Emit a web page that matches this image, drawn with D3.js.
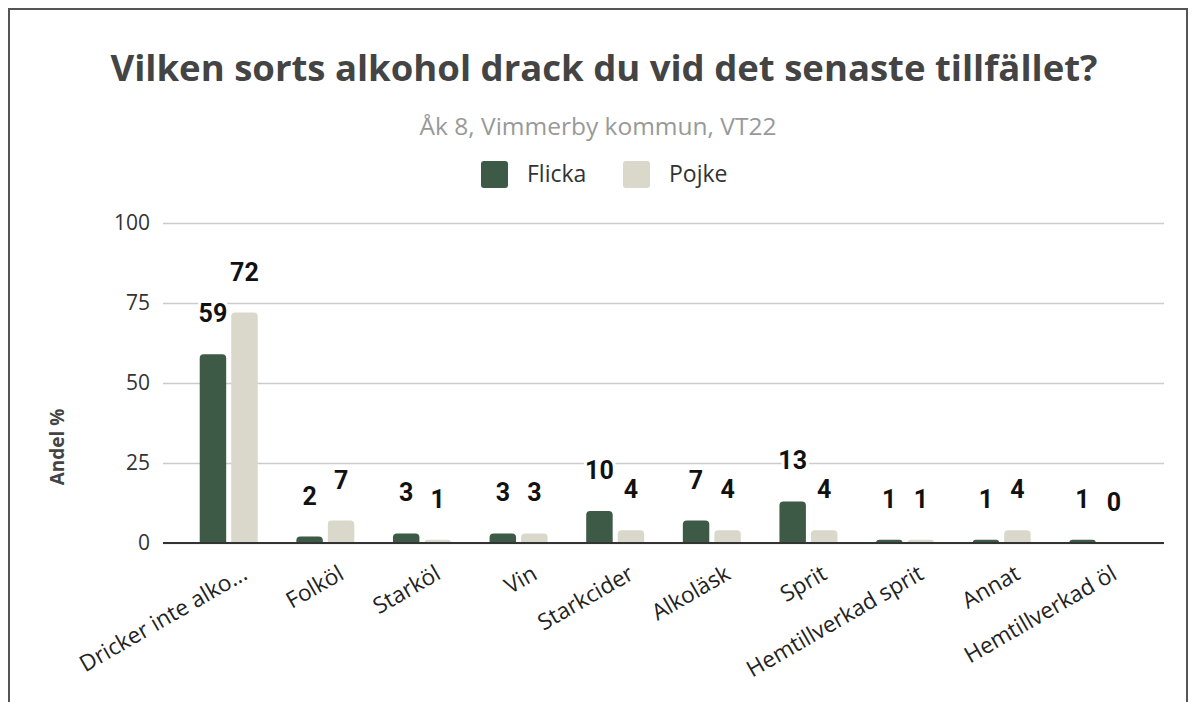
<!DOCTYPE html>
<html>
<head>
<meta charset="utf-8">
<script src="https://cdn.jsdelivr.net/npm/d3@7"></script>
<style>
  body { margin: 0; background: #fff; }
  text { font-family: "Open Sans", sans-serif; }
</style>
</head>
<body>
<div id="chart"></div>
<script>
var width = 1196, height = 702;

var categories = ["Dricker inte alko...", "Folköl", "Starköl", "Vin", "Starkcider", "Alkoläsk", "Sprit", "Hemtillverkad sprit", "Annat", "Hemtillverkad öl"];
var series = ["Flicka", "Pojke"];
var flicka = [59, 2, 3, 3, 10, 7, 13, 1, 1, 1];
var pojke = [72, 7, 1, 3, 4, 4, 4, 1, 4, 0];
var yTicks = [0, 25, 50, 75, 100];
var colors = ["#3d5a46", "#d9d8cb"];

var svg = d3.select("#chart")
  .append("svg")
    .attr("width", width)
    .attr("height", height);

svg.append("rect")
  .attr("x", 9).attr("y", 9)
  .attr("width", 1178).attr("height", 720)
  .attr("fill", "none")
  .attr("stroke", "#555")
  .attr("stroke-width", 2);

// titles
svg.append("text")
  .attr("x", 604).attr("y", 81)
  .attr("text-anchor", "middle")
  .style("font-size", "36.5px").style("font-weight", 700)
  .style("fill", "#444")
  .text("Vilken sorts alkohol drack du vid det senaste tillfället?");

svg.append("text")
  .attr("x", 598).attr("y", 135)
  .attr("text-anchor", "middle")
  .style("font-size", "24.5px")
  .style("fill", "#999")
  .text("Åk 8, Vimmerby kommun, VT22");

// legend
var legX = [481, 623];
var legend = svg.append("g");
series.forEach(function(s, i) {
  legend.append("rect")
    .attr("x", legX[i]).attr("y", 161)
    .attr("width", 27).attr("height", 27)
    .attr("rx", 3)
    .attr("fill", colors[i]);
  legend.append("text")
    .attr("x", legX[i] + 46).attr("y", 182)
    .style("font-size", "23px")
    .style("fill", "#333")
    .text(s);
});

// scales
var y = d3.scaleLinear().domain([0, 100]).range([543, 223]);
var x0 = d3.scaleBand().domain(categories).range([163, 1164])
  .paddingInner(0.4).paddingOuter(0.38);
var x1 = d3.scaleBand().domain(series).range([0, x0.bandwidth()]).paddingInner(0.16);

// grid + y axis
var yAxis = svg.append("g")
  .attr("transform", "translate(163,0)")
  .call(d3.axisLeft(y).tickValues(yTicks).tickSize(-1001).tickPadding(13));
yAxis.select(".domain").remove();
yAxis.selectAll(".tick line").attr("stroke", "#ccc").attr("stroke-width", 1.5);
yAxis.selectAll(".tick text")
  .style("font-size", "21px").style("fill", "#333")
  .style("font-family", "'Open Sans', sans-serif");

svg.append("text")
  .attr("transform", "translate(64,447) rotate(-90)")
  .attr("text-anchor", "middle")
  .style("font-size", "19px").style("font-weight", 700)
  .style("fill", "#444")
  .text("Andel %");

// bars
function topRounded(x, y0, w, h, r) {
  if (h <= 0) return "";
  r = Math.min(r, h, w / 2);
  return "M" + x + "," + (y0 + h) +
    "V" + (y0 + r) +
    "Q" + x + "," + y0 + " " + (x + r) + "," + y0 +
    "H" + (x + w - r) +
    "Q" + (x + w) + "," + y0 + " " + (x + w) + "," + (y0 + r) +
    "V" + (y0 + h) + "Z";
}

var rows = categories.map(function(c, i) {
  return { cat: c, values: [flicka[i], pojke[i]] };
});

var groups = svg.append("g").selectAll("g")
  .data(rows)
  .enter().append("g")
    .attr("transform", function(d) { return "translate(" + x0(d.cat) + ",0)"; });

groups.selectAll("path")
  .data(function(d) { return d.values.map(function(v, i) { return { s: series[i], v: v, i: i }; }); })
  .enter().append("path")
    .attr("d", function(d) { return topRounded(x1(d.s), y(d.v), x1.bandwidth(), y(0) - y(d.v), 4); })
    .attr("fill", function(d) { return colors[d.i]; });

// baseline
svg.append("line")
  .attr("x1", 163).attr("x2", 1164)
  .attr("y1", y(0)).attr("y2", y(0))
  .attr("stroke", "#333").attr("stroke-width", 2);

// value labels
groups.selectAll(".lbl")
  .data(function(d) { return d.values.map(function(v, i) { return { s: series[i], v: v }; }); })
  .enter().append("text")
    .attr("class", "lbl")
    .attr("x", function(d) { return x1(d.s) + x1.bandwidth() / 2; })
    .attr("y", function(d) { return y(d.v) - 32; })
    .attr("text-anchor", "middle")
    .style("font-family", "Roboto, sans-serif")
    .style("font-size", "25px").style("font-weight", 700)
    .style("fill", "#111")
    .style("paint-order", "stroke")
    .style("stroke", "#fff").style("stroke-width", 6)
    .text(function(d) { return d.v; });

// x labels
svg.append("g").selectAll("text")
  .data(categories)
  .enter().append("text")
    .attr("transform", function(d) {
      return "translate(" + (x0(d) + x0.bandwidth() / 2 + 12) + ",564) rotate(-30)";
    })
    .attr("text-anchor", "end")
    .attr("dy", "0.72em")
    .style("font-size", "22.5px")
    .style("fill", "#222")
    .text(function(d) { return d; });
</script>
</body>
</html>
